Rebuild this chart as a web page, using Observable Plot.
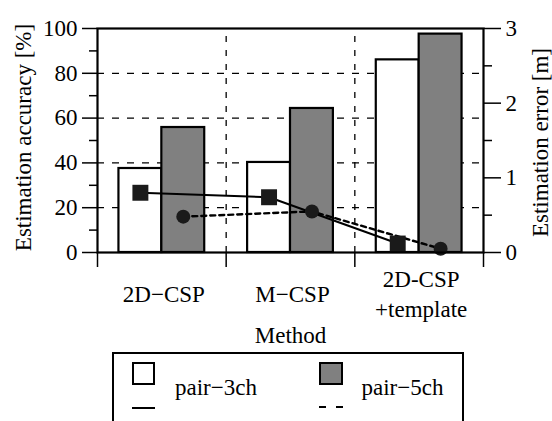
<!DOCTYPE html>
<html>
<head>
<meta charset="utf-8">
<script src="https://cdn.jsdelivr.net/npm/d3@7"></script>
<script src="https://cdn.jsdelivr.net/npm/@observablehq/plot@0.6"></script>
<style>
  html, body { margin: 0; padding: 0; background: #fff; }
  #wrap { position: relative; width: 552px; height: 421px; overflow: hidden; font-family: "Liberation Serif", "Times New Roman", serif; }
  .lg { position: absolute; box-sizing: border-box; }
  .lgtext { position: absolute; font-size: 23px; line-height: 23px; white-space: nowrap; color: #000; }
</style>
</head>
<body>
<div id="wrap"></div>
<script>
// ---- data ----
const categories = ["2D\u2212CSP", "M\u2212CSP", "2D-CSP\n+template"];
const accuracy3ch = [37.5, 40.2, 86.0];   // Estimation accuracy [%], pair-3ch (white bars)
const accuracy5ch = [55.8, 64.3, 97.5];   // Estimation accuracy [%], pair-5ch (gray bars)
const error3ch = [0.80, 0.74, 0.12];      // Estimation error [m], pair-3ch (squares, solid)
const error5ch = [0.48, 0.55, 0.05];      // Estimation error [m], pair-5ch (circles, dashed)
const leftTicks = [0, 20, 40, 60, 80, 100];
const leftMinor = [10, 30, 50, 70, 90];
const rightTicks = [0, 1, 2, 3];
const rightMinor = [0.5, 1.5, 2.5];
const errMax = 3;
const seriesNames = ["pair\u22123ch", "pair\u22125ch"];

const toAcc = (m) => m * 100 / errMax;   // map metres onto the shared 0-100 scale
const idx = categories.map((c, i) => i);
const GRAY = "#808080";
const FONT = "'Liberation Serif', 'Times New Roman', serif";

const chart = Plot.plot({
  width: 552,
  height: 350,
  marginLeft: 97,
  marginRight: 69,
  marginTop: 28,
  marginBottom: 98,
  style: { fontFamily: FONT, fontSize: "23px", color: "black", background: "white", overflow: "visible" },
  x: { domain: [0, categories.length], axis: null },
  y: { domain: [0, 100], axis: null, label: null },
  marks: [
    Plot.ruleY([20, 40, 60, 80], { stroke: "black", strokeWidth: 1.3, strokeDasharray: "7,8" }),
    Plot.ruleX([1, 2], { stroke: "black", strokeWidth: 1.3, strokeDasharray: "6,8", strokeDashoffset: 6 }),
    Plot.rectY(idx, { x1: i => i + 1/6, x2: i => i + 0.5, y1: 0, y2: i => accuracy3ch[i], fill: "white", stroke: "black", strokeWidth: 2.2 }),
    Plot.rectY(idx, { x1: i => i + 0.5, x2: i => i + 5/6, y1: 0, y2: i => accuracy5ch[i], fill: GRAY, stroke: "black", strokeWidth: 2.2 }),
    Plot.line(idx, { x: i => i + 1/3, y: i => toAcc(error3ch[i]), stroke: "black", strokeWidth: 2 }),
    Plot.line(idx, { x: i => i + 2/3, y: i => toAcc(error5ch[i]), stroke: "black", strokeWidth: 2.4, strokeDasharray: "5,4" }),
    Plot.dot(idx, { x: i => i + 1/3, y: i => toAcc(error3ch[i]), symbol: "square", r: 9, fill: "#1a1a1a", stroke: "none" }),
    Plot.dot(idx, { x: i => i + 2/3, y: i => toAcc(error5ch[i]), symbol: "circle", r: 7, fill: "#1a1a1a", stroke: "none" }),
    Plot.frame({ stroke: "black", strokeWidth: 2.2 }),
    // left axis
    Plot.axisY({ anchor: "left", ticks: leftTicks, tickSize: 15, tickPadding: 5, strokeWidth: 1.5, fontSize: 23, label: null }),
    Plot.axisY({ anchor: "left", ticks: leftMinor, tickSize: 8, strokeWidth: 1.5, tickFormat: () => "", label: null }),
    // right axis (metres)
    Plot.axisY({ anchor: "right", ticks: rightTicks.map(toAcc), tickSize: 17, tickPadding: 5, strokeWidth: 1.5, fontSize: 23,
                 tickFormat: d => String(Math.round(d * errMax / 100)), label: null }),
    Plot.axisY({ anchor: "right", ticks: rightMinor.map(toAcc), tickSize: 8, strokeWidth: 1.5, tickFormat: () => "", label: null }),
    // bottom ticks at category boundaries
    Plot.axisX({ anchor: "bottom", ticks: [0, 1, 2, 3], tickSize: 15, strokeWidth: 1.5, tickFormat: () => "", label: null }),
    // category labels
    Plot.text(idx, { x: i => i + 0.5, text: i => categories[i], frameAnchor: "bottom", lineAnchor: "middle", dy: 40, dx: 2, lineHeight: 1.3, fontSize: 23, fill: "black" }),
    Plot.text(["Method"], { frameAnchor: "bottom", lineAnchor: "middle", dy: 83, fontSize: 23, fill: "black" }),
    Plot.text(["Estimation accuracy [%]"], { frameAnchor: "left", dx: -74, dy: -3, rotate: -90, textAnchor: "middle", lineAnchor: "middle", fontSize: 23, fill: "black" }),
    Plot.text(["Estimation error [m]"], { frameAnchor: "right", dx: 57, dy: 2, rotate: -90, textAnchor: "middle", lineAnchor: "middle", fontSize: 23, fill: "black" })
  ]
});

const wrap = document.getElementById("wrap");
wrap.appendChild(chart);

// ---- legend (HTML, below the SVG) ----
function box(css) { const d = document.createElement("div"); d.className = "lg"; Object.assign(d.style, css); wrap.appendChild(d); return d; }
function label(text, left, top) { const d = document.createElement("div"); d.className = "lgtext"; d.textContent = text; d.style.left = left + "px"; d.style.top = top + "px"; wrap.appendChild(d); }
box({ left: "112px", top: "351.5px", width: "351.5px", height: "110px", border: "2.3px solid #000", background: "#fff" });
box({ left: "132px", top: "362px", width: "23px", height: "23px", border: "2.2px solid #000", background: "#fff" });
box({ left: "132px", top: "407px", width: "23px", height: "2px", background: "#000" });
label(seriesNames[0], 175, 376);
box({ left: "318.5px", top: "362px", width: "24px", height: "23px", border: "2.2px solid #000", background: GRAY });
box({ left: "319px", top: "406px", width: "7px", height: "2.4px", background: "#000" });
box({ left: "336px", top: "406px", width: "7px", height: "2.4px", background: "#000" });
label(seriesNames[1], 361.5, 376);
</script>
</body>
</html>
